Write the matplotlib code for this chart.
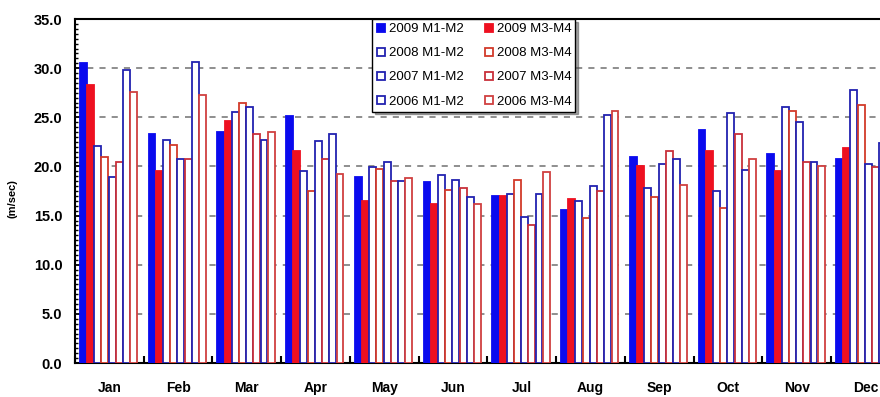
import numpy as np
import matplotlib
matplotlib.use("Agg")
import matplotlib.pyplot as plt
from matplotlib.lines import Line2D
from matplotlib.ticker import MultipleLocator, FormatStrFormatter

plt.rcParams['font.family'] = ['Liberation Sans', 'DejaVu Sans']

# monthly mean speeds (m/sec), one list per year and sensor pair
months = ['Jan', 'Feb', 'Mar', 'Apr', 'May', 'Jun',
          'Jul', 'Aug', 'Sep', 'Oct', 'Nov', 'Dec']

m12_2009 = [30.5, 23.3, 23.5, 25.1, 18.9, 18.4, 17.0, 15.6, 21.0, 23.7, 21.3, 20.8]
m34_2009 = [28.3, 19.5, 24.6, 21.6, 16.5, 16.2, 17.0, 16.7, 20.0, 21.6, 19.5, 21.9]
m12_2008 = [22.1, 22.7, 25.5, 19.5, 19.9, 19.1, 17.2, 16.5, 17.8, 17.5, 26.0, 27.8]
m34_2008 = [21.0, 22.2, 26.5, 17.5, 19.7, 17.6, 18.6, 14.8, 16.9, 15.8, 25.6, 26.3]
m12_2007 = [18.9, 20.8, 26.0, 22.6, 20.5, 18.6, 14.9, 18.0, 20.2, 25.4, 24.5, 20.2]
m34_2007 = [20.5, 20.8, 23.3, 20.8, 18.5, 17.8, 14.0, 17.5, 21.6, 23.3, 20.5, 19.9]
m12_2006 = [29.8, 30.6, 22.7, 23.3, 18.5, 16.9, 17.2, 25.2, 20.8, 19.6, 20.5, 22.4]
m34_2006 = [27.6, 27.3, 23.5, 19.2, 18.8, 16.2, 19.4, 25.6, 18.1, 20.8, 20.0, 21.9]

series = [
    ('2009 M1-M2', m12_2009, '#0a0aee', '#0a0aee'),
    ('2009 M3-M4', m34_2009, '#ee1020', '#ee1020'),
    ('2008 M1-M2', m12_2008, 'white', '#2222b0'),
    ('2008 M3-M4', m34_2008, 'white', '#d23a2a'),
    ('2007 M1-M2', m12_2007, 'white', '#2222b0'),
    ('2007 M3-M4', m34_2007, 'white', '#c8303a'),
    ('2006 M1-M2', m12_2006, 'white', '#2222b0'),
    ('2006 M3-M4', m34_2006, 'white', '#d04040'),
]

fig = plt.figure(figsize=(8.8, 3.97), dpi=100)
ax = fig.add_axes([0.0852, 0.0856, 0.9375, 0.8665])

x = np.arange(len(months))
width = 0.1
for k, (name, vals, face, edge) in enumerate(series):
    ax.bar(x + 0.12 + k * 0.105, vals, width=width, color=face,
           edgecolor=edge, linewidth=1.3, zorder=3)

# dashed horizontal grid
for yv in np.arange(5, 35, 5):
    ax.axhline(yv, color='#707070', lw=1.1, ls=(0, (4, 4)), zorder=1)

ax.set_xlim(0, 12)
ax.set_ylim(0, 35)
ax.yaxis.set_major_locator(MultipleLocator(5))
ax.yaxis.set_minor_locator(MultipleLocator(0.5))
ax.yaxis.set_major_formatter(FormatStrFormatter('%.1f'))
ax.tick_params(axis='y', which='major', direction='in', length=4, width=1.2,
               labelsize=10.5, pad=9)
ax.tick_params(axis='y', which='minor', direction='in', length=2.5, width=1)
for lab in ax.get_yticklabels():
    lab.set_fontweight('bold')

# month boundaries as ticks, names in the middle
ax.set_xticks(np.arange(0, 13))
ax.set_xticklabels([])
ax.set_xticks(x + 0.5, minor=True)
ax.set_xticklabels(months, minor=True, fontsize=10, fontweight='bold')
ax.tick_params(axis='x', which='major', direction='in', length=5, width=1.5)
ax.tick_params(axis='x', which='minor', length=0, pad=13)

for s in ax.spines.values():
    s.set_linewidth(1.5)

fig.text(0.014, 0.5, '(m/sec)', rotation=90, fontsize=8, fontweight='bold',
         va='center', ha='center')

handles = []
for name, vals, face, edge in series:
    handles.append(Line2D([], [], ls='none', marker='s', markersize=6,
                          markerfacecolor=face, markeredgecolor=edge,
                          markeredgewidth=1.3, label=name))
order = [0, 2, 4, 6, 1, 3, 5, 7]
leg = ax.legend([handles[i] for i in order], [series[i][0] for i in order],
                ncol=2, loc='upper left', bbox_to_anchor=(0.4227, 0.952),
                bbox_transform=fig.transFigure, fontsize=9.5,
                frameon=True, fancybox=False, shadow=True, edgecolor='black',
                borderpad=0.3, labelspacing=0.9, handlelength=0.8,
                handletextpad=0.2, columnspacing=1.5, borderaxespad=0)
leg.get_frame().set_linewidth(1.0)
leg.set_zorder(5)

fig.savefig('out.png', dpi=100)
